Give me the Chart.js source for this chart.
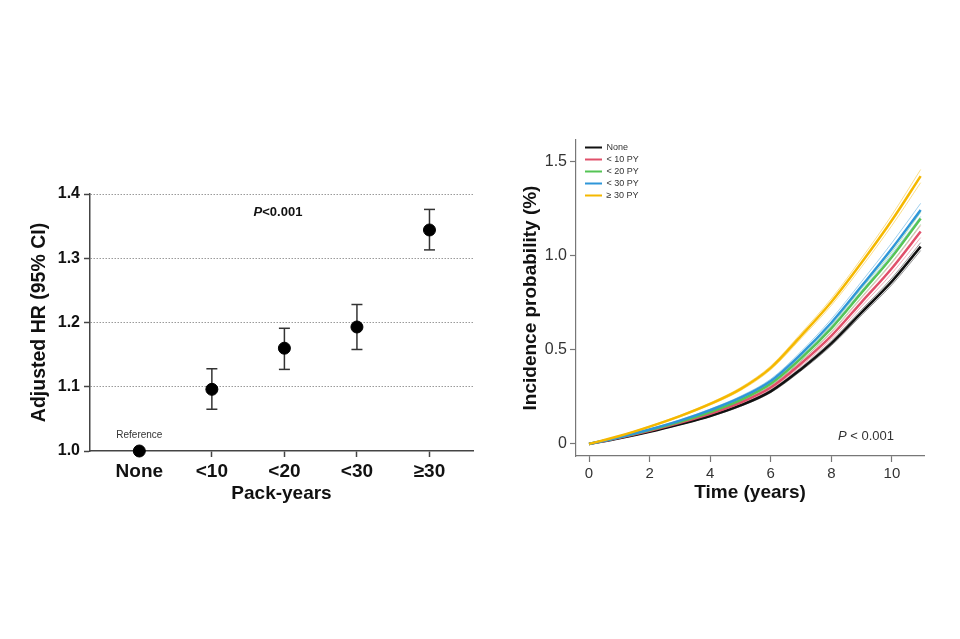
<!DOCTYPE html>
<html>
<head>
<meta charset="utf-8">
<script src="https://cdn.jsdelivr.net/npm/chart.js@4.4.1/dist/chart.umd.min.js"></script>
<style>
  html, body { margin: 0; padding: 0; background: #ffffff; }
  body { width: 960px; height: 639px; position: relative; overflow: hidden; }
  #wrapL { position: absolute; left: 0px; top: 150px; width: 490px; height: 380px; }
  #wrapR { position: absolute; left: 480px; top: 120px; width: 480px; height: 400px; }
</style>
</head>
<body>
<div id="wrapL"><canvas id="left"></canvas></div>
<div id="wrapR"><canvas id="right"></canvas></div>
<script>
// ---------- Left panel data ----------
const packCategories = ['None', '<10', '<20', '<30', '\u226530'];
const catPositions = [0, 1, 2, 3, 4];
const hrValues = [1.0, 1.096, 1.160, 1.193, 1.344];
const hrLower = [null, 1.065, 1.127, 1.158, 1.313];
const hrUpper = [null, 1.128, 1.191, 1.228, 1.376];
const hrTicks = [1.0, 1.1, 1.2, 1.3, 1.4];

// ---------- Right panel data ----------
const groupLabels = ['None', '< 10 PY', '< 20 PY', '< 30 PY', '\u2265 30 PY'];
const timeYears = [0, 1, 2, 3, 4, 5, 6, 7, 8, 9, 10, 10.95];
const timeTicks = [0, 2, 4, 6, 8, 10];
const probTicks = [0, 0.5, 1.0, 1.5];

const incNone  = [0, 0.030, 0.065, 0.105, 0.149, 0.205, 0.280, 0.398, 0.535, 0.700, 0.865, 1.050];
const incNoneLo= [0, 0.029, 0.063, 0.102, 0.145, 0.200, 0.273, 0.389, 0.523, 0.685, 0.847, 1.029];
const incNoneHi= [0, 0.031, 0.067, 0.108, 0.153, 0.210, 0.287, 0.407, 0.547, 0.715, 0.883, 1.071];

const inc10    = [0, 0.033, 0.070, 0.112, 0.160, 0.220, 0.300, 0.428, 0.575, 0.755, 0.935, 1.130];
const inc10Lo  = [0, 0.032, 0.067, 0.108, 0.155, 0.213, 0.291, 0.415, 0.558, 0.733, 0.908, 1.098];
const inc10Hi  = [0, 0.034, 0.073, 0.116, 0.165, 0.227, 0.309, 0.441, 0.592, 0.777, 0.962, 1.162];

const inc20    = [0, 0.035, 0.074, 0.118, 0.170, 0.233, 0.320, 0.455, 0.615, 0.805, 0.995, 1.200];
const inc20Lo  = [0, 0.034, 0.071, 0.114, 0.165, 0.226, 0.311, 0.442, 0.598, 0.783, 0.968, 1.168];
const inc20Hi  = [0, 0.036, 0.077, 0.122, 0.175, 0.240, 0.329, 0.468, 0.632, 0.827, 1.022, 1.232];

const inc30    = [0, 0.036, 0.077, 0.124, 0.180, 0.246, 0.335, 0.478, 0.645, 0.840, 1.040, 1.245];
const inc30Lo  = [0, 0.035, 0.074, 0.120, 0.174, 0.238, 0.325, 0.464, 0.626, 0.816, 1.010, 1.210];
const inc30Hi  = [0, 0.037, 0.080, 0.128, 0.186, 0.254, 0.345, 0.492, 0.664, 0.864, 1.070, 1.280];

const incGe30  = [0, 0.042, 0.092, 0.148, 0.213, 0.292, 0.405, 0.575, 0.755, 0.965, 1.190, 1.425];
const incGe30Lo= [0, 0.041, 0.089, 0.144, 0.207, 0.284, 0.395, 0.561, 0.737, 0.942, 1.162, 1.390];
const incGe30Hi= [0, 0.043, 0.095, 0.152, 0.219, 0.300, 0.415, 0.589, 0.773, 0.988, 1.218, 1.460];

const groupColors = ['#111111', '#e0506a', '#55c455', '#2f96d8', '#f5b800'];
const groupCiColors = ['rgba(17,17,17,0.45)', 'rgba(224,80,106,0.45)', 'rgba(85,196,85,0.45)', 'rgba(47,150,216,0.45)', 'rgba(245,184,0,0.45)'];
const groupMeans = [incNone, inc10, inc20, inc30, incGe30];
const groupLows = [incNoneLo, inc10Lo, inc20Lo, inc30Lo, incGe30Lo];
const groupHighs = [incNoneHi, inc10Hi, inc20Hi, inc30Hi, incGe30Hi];

const FONT = "'Liberation Sans', Arial, Helvetica, sans-serif";

// ---------------- Left chart ----------------
const leftDatasets = [];
for (let i = 0; i < catPositions.length; i++) {
  if (hrLower[i] === null) continue;
  leftDatasets.push({
    type: 'line',
    label: 'ci' + i,
    data: [{x: catPositions[i], y: hrLower[i]}, {x: catPositions[i], y: hrUpper[i]}],
    borderColor: '#333333',
    borderWidth: 1.5,
    pointStyle: 'line',
    pointRadius: 5.5,
    pointBorderWidth: 1.5,
    pointBorderColor: '#333333',
    pointHoverRadius: 5.5,
    clip: false,
    order: 2
  });
}
leftDatasets.push({
  type: 'scatter',
  label: 'HR',
  data: catPositions.map((c, i) => ({x: c, y: hrValues[i]})),
  backgroundColor: '#000000',
  borderColor: '#000000',
  pointRadius: 6,
  pointHoverRadius: 6,
  clip: false,
  order: 1
});

const leftAnnot = {
  id: 'leftAnnot',
  afterDraw(chart) {
    const ctx = chart.ctx;
    const xs = chart.scales.x, ys = chart.scales.y;
    ctx.save();
    ctx.fillStyle = '#333';
    ctx.font = '10px ' + FONT;
    ctx.textAlign = 'center';
    ctx.textBaseline = 'middle';
    ctx.fillText('Reference', xs.getPixelForValue(catPositions[0]), ys.getPixelForValue(hrValues[0]) - 16);
    ctx.fillStyle = '#111';
    ctx.textAlign = 'left';
    const pFont = 'italic bold 13px ' + FONT;
    const rFont = 'bold 13px ' + FONT;
    ctx.font = pFont; const w1 = ctx.measureText('P').width;
    ctx.font = rFont; const w2 = ctx.measureText('<0.001').width;
    const cx = 278, cy = 62;
    const x0 = cx - (w1 + w2) / 2;
    ctx.font = pFont; ctx.fillText('P', x0, cy);
    ctx.font = rFont; ctx.fillText('<0.001', x0 + w1, cy);
    ctx.restore();
  }
};

new Chart(document.getElementById('left'), {
  type: 'scatter',
  data: { datasets: leftDatasets },
  options: {
    responsive: true,
    maintainAspectRatio: false,
    animation: false,
    layout: { padding: { top: 44, right: 17, left: 0, bottom: 0 } },
    plugins: { legend: { display: false }, tooltip: { enabled: false } },
    scales: {
      x: {
        type: 'linear',
        min: -0.68,
        max: 4.6,
        afterBuildTicks: (scale) => { scale.ticks = catPositions.map(v => ({ value: v })); },
        afterFit: (scale) => { scale.height = 79; },
        ticks: {
          callback: (v) => packCategories[catPositions.indexOf(v)],
          font: { family: FONT, size: 19, weight: 'bold' },
          color: '#111',
          padding: 3,
          autoSkip: false,
          maxRotation: 0
        },
        grid: { drawOnChartArea: false, drawTicks: true, tickLength: 6, tickColor: '#444', tickWidth: 1.5 },
        border: { display: true, color: '#444', width: 1.5 },
        title: {
          display: true,
          text: 'Pack-years',
          font: { family: FONT, size: 19, weight: 'bold' },
          color: '#111',
          padding: { top: 0, bottom: 25 }
        }
      },
      y: {
        min: 1.0,
        max: 1.4,
        afterBuildTicks: (scale) => { scale.ticks = hrTicks.map(v => ({ value: v })); },
        afterFit: (scale) => { scale.width = 90; },
        ticks: {
          callback: (v) => v.toFixed(1),
          font: { family: FONT, size: 16, weight: 'bold' },
          color: '#111',
          padding: 4
        },
        grid: {
          color: (c) => (c.tick && c.tick.value === 1.0) ? 'rgba(0,0,0,0)' : '#9a9a9a',
          lineWidth: 1,
          drawTicks: true,
          tickLength: 6,
          tickColor: '#444',
          tickWidth: 1.5,
          tickBorderDash: []
        },
        border: { display: true, color: '#444', width: 1.5, dash: [1.5, 1.5] },
        title: {
          display: true,
          text: 'Adjusted HR (95% CI)',
          font: { family: FONT, size: 19.5, weight: 'bold' },
          color: '#111',
          padding: { top: 28, bottom: 0 }
        }
      }
    }
  },
  plugins: [leftAnnot]
});

// ---------------- Right chart ----------------
const rightDatasets = [];
for (let g = 0; g < groupLabels.length; g++) {
  rightDatasets.push({
    label: 'ciLo' + g,
    data: timeYears.map((t, i) => ({x: t, y: groupLows[g][i]})),
    borderColor: groupCiColors[g],
    backgroundColor: groupCiColors[g],
    borderWidth: 1,
    pointRadius: 0,
    cubicInterpolationMode: 'monotone',
    order: 10 - g
  });
  rightDatasets.push({
    label: 'ciHi' + g,
    data: timeYears.map((t, i) => ({x: t, y: groupHighs[g][i]})),
    borderColor: groupCiColors[g],
    backgroundColor: groupCiColors[g],
    borderWidth: 1,
    pointRadius: 0,
    cubicInterpolationMode: 'monotone',
    order: 10 - g
  });
}
for (let g = 0; g < groupLabels.length; g++) {
  rightDatasets.push({
    label: groupLabels[g],
    data: timeYears.map((t, i) => ({x: t, y: groupMeans[g][i]})),
    borderColor: groupColors[g],
    backgroundColor: groupColors[g],
    borderWidth: 2.5,
    pointRadius: 0,
    cubicInterpolationMode: 'monotone',
    order: 5 - g
  });
}

const rightAnnot = {
  id: 'rightAnnot',
  afterLayout(chart) {
    if (chart.legend) {
      chart.legend.left = chart.chartArea.left + 6;
      chart.legend.top = chart.chartArea.top;
    }
  },
  afterDraw(chart) {
    const ctx = chart.ctx;
    ctx.save();
    ctx.fillStyle = '#333';
    ctx.textBaseline = 'middle';
    ctx.textAlign = 'left';
    const pFont = 'italic 13px ' + FONT;
    const rFont = '13px ' + FONT;
    ctx.font = pFont; const w1 = ctx.measureText('P').width;
    ctx.font = rFont; const w2 = ctx.measureText(' < 0.001').width;
    const cx = 386, cy = 316;
    const x0 = cx - (w1 + w2) / 2;
    ctx.font = pFont; ctx.fillText('P', x0, cy);
    ctx.font = rFont; ctx.fillText(' < 0.001', x0 + w1, cy);
    ctx.restore();
  }
};

new Chart(document.getElementById('right'), {
  type: 'line',
  data: { datasets: rightDatasets },
  options: {
    responsive: true,
    maintainAspectRatio: false,
    animation: false,
    layout: { padding: { top: 20, right: 36, left: 0, bottom: 0 } },
    plugins: {
      tooltip: { enabled: false },
      legend: {
        display: true,
        position: 'chartArea',
        align: 'start',
        labels: {
          boxWidth: 17,
          boxHeight: 2,
          padding: 3,
          color: '#333',
          font: { family: FONT, size: 9 },
          generateLabels: (chart) => {
            const items = Chart.defaults.plugins.legend.labels.generateLabels(chart);
            return items.filter(it => groupLabels.includes(it.text)).map(it => Object.assign(it, { lineWidth: 0 }))
              .sort((a, b) => groupLabels.indexOf(a.text) - groupLabels.indexOf(b.text));
          }
        }
      }
    },
    scales: {
      x: {
        type: 'linear',
        min: -0.43,
        max: 11.06,
        afterBuildTicks: (scale) => { scale.ticks = timeTicks.map(v => ({ value: v })); },
        afterFit: (scale) => { scale.height = 64; },
        ticks: {
          callback: (v) => String(v),
          font: { family: FONT, size: 15 },
          color: '#333',
          padding: 3,
          maxRotation: 0
        },
        grid: { drawOnChartArea: false, drawTicks: true, tickLength: 6, tickColor: '#777', tickWidth: 1.2 },
        border: { display: true, color: '#777', width: 1.2 },
        title: {
          display: true,
          text: 'Time (years)',
          font: { family: FONT, size: 19, weight: 'bold' },
          color: '#111',
          padding: { top: 0, bottom: 16 }
        }
      },
      y: {
        min: -0.064,
        max: 1.617,
        afterBuildTicks: (scale) => { scale.ticks = probTicks.map(v => ({ value: v })); },
        afterFit: (scale) => { scale.width = 96; },
        ticks: {
          callback: (v) => v === 0 ? '0' : v.toFixed(1),
          font: { family: FONT, size: 16 },
          color: '#333',
          padding: 3
        },
        grid: { drawOnChartArea: false, drawTicks: true, tickLength: 6, tickColor: '#777', tickWidth: 1.2 },
        border: { display: true, color: '#777', width: 1.2 },
        title: {
          display: true,
          text: 'Incidence probability (%)',
          font: { family: FONT, size: 19, weight: 'bold' },
          color: '#111',
          padding: { top: 39, bottom: 0 }
        }
      }
    }
  },
  plugins: [rightAnnot]
});
</script>
</body>
</html>
